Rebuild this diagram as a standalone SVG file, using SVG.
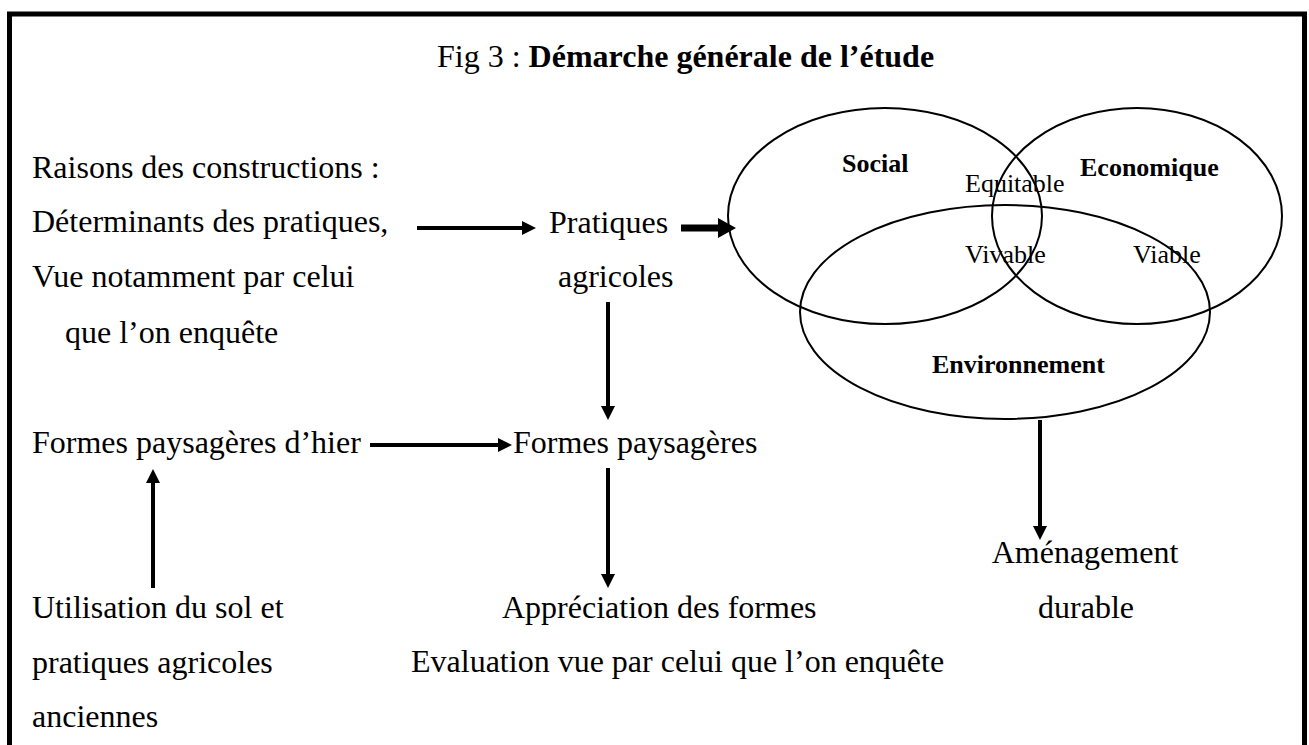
<svg xmlns="http://www.w3.org/2000/svg" width="1309" height="745" viewBox="0 0 1309 745">
<style>
  text { font-family: "Liberation Serif", "Times New Roman", serif; fill: #000; }
  .t { font-size: 32px; }
  .s { font-size: 26px; }
  .b { font-weight: bold; }
  .ell { fill: none; stroke: #000; stroke-width: 2; }
  .ln { stroke: #000; stroke-width: 4; fill: none; }
  .thick { stroke: #000; stroke-width: 7; fill: none; }
</style>
<defs>
  <marker id="ah" markerUnits="userSpaceOnUse" markerWidth="14" markerHeight="14" refX="0" refY="7" orient="auto">
    <path d="M0,0 L14,7 L0,14 z" fill="#000"/>
  </marker>
  <marker id="ahb" markerUnits="userSpaceOnUse" markerWidth="18" markerHeight="20" refX="0" refY="10" orient="auto">
    <path d="M0,0 L18,10 L0,20 z" fill="#000"/>
  </marker>
</defs>
<rect x="0" y="0" width="1309" height="745" fill="#fff"/>
<rect id="frame" x="9.5" y="14" width="1295" height="800" fill="none" stroke="#000" stroke-width="5"/>

<g id="title"><text class="t" x="437" y="67">Fig 3 : <tspan class="b">Démarche générale de l’étude</tspan></text></g>

<g id="raisons">
  <text class="t" x="32" y="178">Raisons des constructions :</text>
  <text class="t" x="32" y="232">Déterminants des pratiques,</text>
  <text class="t" x="32" y="287">Vue notamment par celui</text>
  <text class="t" x="65" y="343">que l’on enquête</text>
</g>
<g id="pratiques">
  <text class="t" x="549" y="233">Pratiques</text>
  <text class="t" x="558" y="287">agricoles</text>
</g>
<g id="venn">
  <ellipse class="ell" cx="885" cy="216" rx="157" ry="108"/>
  <ellipse class="ell" cx="1137" cy="216" rx="145" ry="108"/>
  <ellipse class="ell" cx="1005" cy="312" rx="205" ry="107"/>
  <text class="s b" x="842" y="172">Social</text>
  <text class="s b" x="1080" y="176">Economique</text>
  <text class="s" x="965" y="192">Equitable</text>
  <text class="s" x="965" y="263">Vivable</text>
  <text class="s" x="1133" y="263">Viable</text>
  <text class="s b" x="932" y="373">Environnement</text>
</g>
<g id="formes-hier"><text class="t" x="32" y="453">Formes paysagères d’hier</text></g>
<g id="formes"><text class="t" x="513" y="453">Formes paysagères</text></g>
<g id="utilisation">
  <text class="t" x="32" y="618">Utilisation du sol et</text>
  <text class="t" x="32" y="673">pratiques agricoles</text>
  <text class="t" x="32" y="727">anciennes</text>
</g>
<g id="appreciation">
  <text class="t" x="502" y="618">Appréciation des formes</text>
  <text class="t" x="411" y="672">Evaluation vue par celui que l’on enquête</text>
</g>
<g id="amenagement">
  <text class="t" x="1085" y="563" text-anchor="middle">Aménagement</text>
  <text class="t" x="1086" y="618" text-anchor="middle">durable</text>
</g>

<g id="connectors">
  <line class="ln" x1="417" y1="228" x2="522" y2="228" marker-end="url(#ah)"/>
  <line class="thick" x1="681" y1="228" x2="718" y2="228" marker-end="url(#ahb)"/>
  <line class="ln" x1="608" y1="302" x2="608" y2="406" marker-end="url(#ah)"/>
  <line class="ln" x1="370" y1="445" x2="498" y2="445" marker-end="url(#ah)"/>
  <line class="ln" x1="608" y1="468" x2="608" y2="574" marker-end="url(#ah)"/>
  <line class="ln" x1="153" y1="588" x2="153" y2="483" marker-end="url(#ah)"/>
  <line class="ln" x1="1040" y1="420" x2="1040" y2="526" marker-end="url(#ah)"/>
</g>
</svg>
